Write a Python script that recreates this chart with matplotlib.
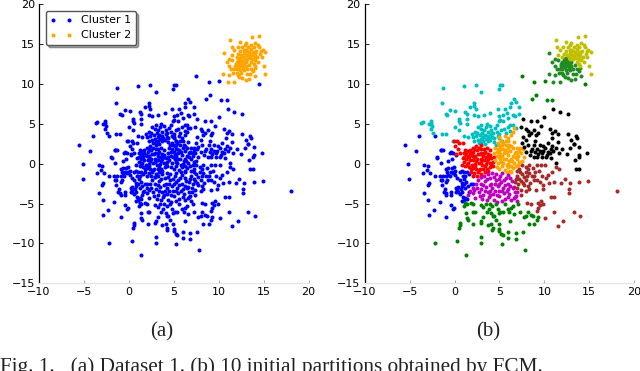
import numpy as np
import matplotlib.pyplot as plt

plt.rcParams['font.family'] = ['DejaVu Sans']

# points, one list per partition
blue_pts = [(-5.55,2.34),(-4.32,1.63),(-5.14,0),(-5.06,-1.92),(-3.36,-.13),(-3,-.25),(-3.54,-1.17),(-3.1,-.84),
    (-2.73,-1.17),(-2.84,-2.43),(-3,-2.64),(-3.36,-3.68),(-2.9,-4.5),(-2.3,-5.8),(-2.84,-6.44),(-.9,-6.7),
    (-1.6,-4.85),(-.43,-5.15),(-.2,-5.65),(-.05,-5.56),(-2,.9),(-1.9,.7),(-1.5,1.7),(-1.3,1.7),(-1.5,.1),
    (-2.2,-1.6),(-1.6,-1.6),(-1.5,-2),(-1.3,-1.6),(-1.4,-2.1),(-.9,-1.5),(-.8,-1.1),(-.7,-1.4),(-.5,-1.6),
    (-.4,-1.1),(-.2,-1.2),(-.1,-1),(.1,-1.4),(.1,-.9),(-.9,-.6),(-.7,-.5),(-.3,-.5),(-.1,-.4),(-.3,.6),
    (-.5,1.4),(-.4,1.5),(-.2,1.3),(.2,1.1),(-1.2,-3.5),(-1,-3.7),(-.9,-3.9),(-.4,-3.5),(-.4,-3.9),(-1.4,-2.7),
    (-.9,-2.3),(-.8,-2.1),(.2,-3.1),(.3,-3.3),(.2,-3.6),(.4,-3.5),(.6,-3.8),(.7,-3.2),(.8,-3.6),(.8,-2.8),
    (.9,-4.2),(1,-4.6),(1.2,-4.3),(1.4,-4.4),(.8,-4.7),(.6,-2.1),(.8,-2.4),(1,-2.6),(1.3,-2.3),(1.5,-2.8),
    (1.2,-3.1),(1.6,-3.5),(1,-1.1),(.9,-1.6),(.8,-.9),(1.2,-1.5),(1.4,-1),(1.1,-1.9),(1.8,-2.5),(2,-2.6),
    (1.6,-1.3),(-4,3.47),(-2.2,3.5),(-1.5,1.7),(-.7,.4),(.6,-1.1),(.3,-1.8),(-1.1,-3.2),(.4,-2.9)]
cyan_pts = [(-1.3,9.54),(1,9.75),(2.4,9.87),(3,8.95),(4.95,9.33),(5.06,9.87),(5.3,9.9),(-1.4,7.57),(-.46,6.8),
    (.1,6.65),(-.95,6.2),(-.8,6.1),(-3.55,5.27),(-3.7,5.06),(-2.6,5.36),(-2.6,5.06),(-2.85,5),(-2.55,4.75),
    (-2.6,4.3),(-2.4,3.9),(-1.4,3.7),(-1,3.7),(0,4.6),(.46,5.6),(.5,5.3),(.6,5.06),(1.2,6.5),(1.35,6.2),
    (1.76,7.1),(2.2,7.6),(2.2,7.3),(2.4,6.9),(2.2,6.1),(2.6,6),(3.25,6.1),(4,6.4),(4.85,6.9),(5.6,6.9),
    (6.2,7.1),(6.25,7.6),(6.6,8.1),(6.85,7.7),(7.2,7.1),(5.8,6.4),(5.4,6.1),(5,6),(5.05,5.5),(5.45,5.4),
    (6,5.7),(7.2,6.3),(6.7,6),(6.55,6.1),(1.4,5.6),(1.4,5),(.46,4.2),(1.05,3.5),(1.5,3.4),(-.2,2.85),
    (2.6,4.6),(2.9,4.3),(3,4.8),(3.3,4.2),(3.5,4.6),(3.7,4),(3.9,4.7),(4.1,4.2),(4.3,3.8),(4.5,4.5),
    (4.7,4),(4.7,4.9),(5,3.7),(5.2,4.2),(5.5,4.4),(5.7,3.9),(5.9,4.6),(6.2,4.1),(6.5,4.9),(6.8,4.5),
    (2,3.3),(2.2,2.9),(2.4,3.5),(2.6,3),(2.8,3.6),(3,2.7),(3.2,3.3),(3.5,3.1),(3.7,3.5),(4,3),(4.2,3.4),
    (4.4,2.7),(4.6,2.3),(3.4,2.5),(2.7,2.6),(1.9,3.7),(2.3,4),(5,3.2),(5.3,2.9),(3.6,5),(4.9,5.4),(6.2,4.9),
    (3.1,3.9),(3.4,3.6),(3.8,3.2),(4.1,3.7),(2.5,3.8),(2.9,3.1),(4.4,3.2),(3.2,2.9),(3.7,2.8),(4.8,3.5)]
red_pts = [(-.1,2.8),(.1,2.2),(.3,2.9),(.5,2.6),(.4,1.8),(.6,1.3),(.2,1.2),(.9,2.6),(1.1,1.3),(1.3,1.2),(1.5,1),
    (1.7,1.7),(1.9,1.1),(2.1,1.5),(2.3,1),(2.5,1.7),(2.8,1.2),(3,1.8),(3.2,1),(3.4,1.5),(3.7,1.2),(3.9,1.7),
    (.9,.7),(1.1,.2),(1.3,.6),(1.5,.1),(1.7,.5),(1.9,-.1),(2.1,.5),(2.3,0),(2.5,.6),(2.7,.1),(2.9,.6),(3.1,-.1),
    (3.3,.5),(3.5,0),(3.7,.6),(3.9,.1),(4.1,.7),(4.3,.2),(4.4,.9),(.8,-.1),(1.2,-.3),(1.6,-.4),(2,-.5),(2.4,-.6),
    (2.8,-.6),(3.2,-.7),(3.6,-.6),(4,-.4),(4.3,-.3),(1.8,-1),(2.2,-1.2),(2.6,-1.1),(3,-1.3),(3.4,-1.1),(3.7,-.9),
    (2,-1.5),(2.5,-1.6),(2.9,-1.7),(1.4,1.6),(2.4,2.2),(3,2.3),(2.9,1.4),(3.6,2),(2.2,.8),(3.5,.8),(1.2,1.7),
    (1.6,.8),(2,1),(2.6,1.2),(3.1,.5),(3.3,1.3),(3.8,.9),(1.4,-.1),(1.8,-.6),(2.3,-.3),(2.7,-.8),(3.4,-.3),(4.1,0),
    (2,2),(2.7,2),(3.3,1.8),(1.1,.9),(2.4,.3),(2.9,.2),(3.6,.3),(1.7,1.3),(2.2,1.8),(3.9,1.1)]
orange_pts = [(6.6,4.5),(6.5,4),(6.3,3.6),(5.9,3.2),(5.6,3.5),(5.2,2.9),(5,3.3),(4.8,2.6),(4.5,2),(4.8,1.9),
    (5.1,2.2),(5.4,2.6),(5.7,2.3),(6,2.8),(6.3,2.2),(6.6,2.7),(6.9,2),(7.3,2),(7.6,1.8),(4.4,1.4),(4.7,1),
    (5,1.5),(5.3,1),(5.6,1.7),(5.9,1.1),(6.2,1.6),(6.5,1),(6.8,1.5),(7.1,1),(7.4,1.3),(7.7,.9),(4.5,.5),
    (4.8,.1),(5.1,.6),(5.4,.1),(5.7,.6),(6,0),(6.3,.6),(6.6,.1),(6.9,.6),(7.2,.2),(7.5,.4),(4.7,-.4),(5,-.6),
    (5.3,-.3),(5.6,-.8),(5.9,-.4),(6.2,-.9),(6.5,-.5),(6.8,-.3),(7.1,-.2),(5.8,-1),(6.3,-1.1),(5.5,1.3),
    (5.2,1.8),(6,2),(6.4,.4),(5.7,2.9),(4.9,.9),(7,1.3),(5.3,2.4),(5.8,1.5),(6.1,2.4),(6.5,2),(6.7,1.3),(5.1,1.2),
    (5.5,.6),(6.1,.4),(6.7,.8),(5.2,.2),(5.8,-.1),(6.3,-.3),(4.9,2.3),(5.4,1.9),(7.2,1.6),(4.7,1.5)]
black_pts = [(7.6,5.6),(8.5,5.4),(7.4,4.6),(9.2,5.3),(10,5.8),(11,6.9),(11.7,6.5),(12.6,6.3),(9.6,4.7),(8.2,4.1),
    (8.5,3.9),(8.8,4.2),(9.1,3.6),(9.3,3.9),(7.6,3.4),(8,3),(8.3,3.6),(10.6,4.4),(10.9,3.8),(11.2,4.1),(11.5,3.7),
    (10.8,3.2),(12.6,3.7),(13.5,3.5),(13.6,3.2),(13,3),(13.3,2.5),(12.9,2),(11.5,2.7),(10.9,2.2),(10.4,2.6),
    (7.5,2.6),(7.7,2.1),(8.2,2.4),(8.6,1.9),(8.9,2.4),(9.2,1.8),(9.5,2.3),(9.8,1.6),(10.1,2),(10.4,1.5),(10.7,1.9),
    (11,1.6),(11.3,2),(11.6,1.3),(12,1.8),(12.5,1.2),(13.3,2.5),(13.9,2.1),(14.8,1.4),(13.8,.8),(13.4,.5),(13.9,1.1),
    (8,1.5),(8.4,1.1),(8.8,.9),(9.3,1.2),(9.7,.9),(10.2,.8),(10.7,.7),(11.3,.1),(13.5,-.7),(13.8,-.7),(9,2.8),(8,4.4),
    (9,1.5),(9.5,1.6),(9.9,2.2),(10.3,1.1),(8.5,1.6),(9.2,.9),(10.6,1.3),(9.7,1.3)]
brown_pts = [(18.1,-3.4),(14.9,-2.2),(13.9,-2.3),(12.3,-1.9),(12.8,-2.4),(12.7,-3.2),(12.7,-3.7),(11.3,-.4),(11.6,-.7),
    (10.9,-1),(10.4,-1.4),(10.2,-1.8),(10.5,-2.4),(11.1,-2.3),(11.9,-2.4),(9.9,-2.7),(9.5,-2.3),(9.8,-3.2),(9.1,-3.3),
    (8.3,-3.2),(8,-3.4),(7.4,-3.3),(7.4,-3.9),(6.7,-4.2),(8.1,-4.9),(8.5,-5),(9.3,-4.9),(9.6,-4.7),(9.9,-5),(9.5,-5.2),
    (9.3,-5.6),(9.2,-5.9),(10.7,-4.2),(11.1,-4.2),(10.1,-6.8),(11.1,-6.1),(11.5,-7.8),(12.1,-7.2),(13.3,-6.1),(14,-6.6),
    (6.9,-.9),(7.2,-.6),(7.5,-.2),(7.9,-.4),(8.3,-.1),(8.7,-.5),(9.2,-.1),(9.6,-.2),(10.1,-.1),(6.9,-1.5),(7.2,-1.9),
    (7.5,-1.3),(7.9,-1),(8.3,-1.2),(8.6,-1.6),(9,-1.1),(9.4,-.9),(9.7,-1.5),(6.7,-2.3),(7.1,-2.6),(7.4,-2.2),(7.7,-2.7),
    (8,-2.1),(8.4,-2.4),(8.8,-2),(7,-3),(6.6,-2.9),(7.7,-1.7),(8.1,-1.5),(9.2,-2),(8.9,-1.5),(8.2,-.7),(7.3,-1.1),
    (7.6,-2.4),(8.2,-2.8),(6.8,-1.9)]
magenta_pts = [(1.5,-3.9),(1.7,-3.4),(2,-3.1),(2,-3.7),(2.3,-4.3),(2.5,-3),(2.7,-3.6),(2.9,-2.5),(3,-3.2),(3.2,-3.9),
    (3.4,-2.2),(3.5,-2.9),(3.7,-3.5),(3.8,-4.2),(4,-1.8),(4.1,-2.5),(4.2,-3.1),(4.3,-3.8),(4.4,-4.5),(4.6,-1.3),
    (4.6,-2.1),(4.8,-2.8),(4.9,-3.4),(5,-4),(5.1,-1.5),(5.2,-2.3),(5.4,-3),(5.5,-3.7),(5.6,-4.4),(5.7,-1.8),
    (5.9,-2.5),(6,-3.2),(6.1,-3.8),(6.3,-4.6),(6.4,-2.2),(6.5,-3),(6.7,-3.5),(6.8,-4),(6.9,-4.7),(7,-3.5),
    (2.6,-2),(2.9,-1.7),(3.3,-1.5),(3.7,-1.3),(4.2,-1.2),(3.1,-4.4),(3.6,-4.5),(4.7,-4.8),(5.3,-4.7),(4.5,-3.4),
    (5.8,-3.4),(3.9,-2.7),(5.3,-1.2),(6.2,-1.8),(6.6,-4.3),(2.4,-2.5),(4,-3.4),(5,-2.6),(3.2,-2.7),(3.6,-1.9),
    (4.4,-1.7),(4.9,-1.9),(5.5,-2),(5.6,-2.7),(4.5,-2.6),(3.4,-3.4),(3.9,-3.9),(4.7,-3.9),(5.3,-3.4),(6.2,-2.8),
    (6,-4.2),(2.8,-4),(2.2,-3.3),(5.9,-1.4)]
green_pts = [(-2.2,-10),(.3,-9.7),(1.3,-11.5),(7.8,-10.8),(5.3,-10.1),(3,-9.2),(3,-9.9),(4.3,-8),(4.2,-8.3),(5,-8.2),
    (5,-8.4),(5.2,-8.8),(5.4,-9),(6,-8.6),(6,-9.3),(6.8,-8.7),(6.8,-9.5),(7.6,-8.6),(8.3,-7.6),(8.9,-7.5),(9.3,-6.7),
    (9.2,-7),(1.3,-6.2),(1.4,-6.8),(1.5,-7.1),(.6,-7.4),(.6,-7.7),(.5,-8),(2.1,-7.6),(2.9,-7.4),(3,-7.2),(3.2,-6.7),
    (3.7,-7.7),(4.1,-7.6),(4.6,-7),(4.9,-7.5),(6.2,-7.2),(6.6,-6.3),(7.7,-6.7),(8,-6.6),(8.2,-6),(8.5,-6.4),(8.7,-6.5),
    (1.1,-5.3),(1.2,-4.9),(1.4,-5.1),(1.8,-4.9),(2,-5.1),(2.1,-6),(2.3,-6),(2.9,-5.2),(3.2,-5.4),(3.5,-5),(3.9,-5),
    (3.8,-5.7),(4.2,-5.3),(4.1,-6.2),(4.4,-6.5),(4.3,-6.6),(4.8,-5.7),(4.9,-6.2),(5.1,-6),(5.6,-5),(5.9,-5.7),(6.3,-5.5),
    (6.5,-5.3),(6.1,-6),(7.1,-5.1),(7.3,-6),(3.6,-6.1),(4.6,-5),(5.4,-6)]
# dark green points that panel (a) has in cluster 1
far_green_pts = [(7.5,11),(8.9,10.3),(10.07,10.4),(14.5,10),(8.6,8.15),(9.05,8.6),(10.26,8),(10.9,8)]
core_green_pts = [(10.55,13.85),(10.5,11.3),(11,10.2),(11.7,10.3),(10.9,12.7),(11.2,13.1),(11.5,13),(11.2,12.3),(11.6,11.4),
    (11.2,11.1),(12.6,10.7),(13,10.5),(13.4,10.6),(14.1,11),(13.8,11.6),(13.2,11.2),(11.8,12.2),(12,12.8),(12.2,13.1),
    (12.4,13.3),(12.6,12.9),(12,11.9),(12.2,12.4),(12.4,11.8),(12.6,12.2),(12.8,11.7),(13,12.2),(13.2,11.9),(13.4,12.4),
    (12.5,11.4),(12,11.4),(12.8,12.6),(11.7,11.9),(13.6,11.9),(13,12.7),(12.3,12.1),(12.7,11.9),(11.9,12.5),(12.3,12.7),
    (14,12),(13.5,11.3),(12.3,10.9),(11.4,11.9),(12.1,11.1),(12.5,12.5),(12.1,12.2),(12.9,12.2),(12.4,12.9)]
yellow_pts = [(11.3,15.5),(12.4,15.3),(13.7,15.9),(14.5,16),(14.1,15.2),(11.45,14.6),(11.5,13.6),(11.75,14.3),(15.15,14.05),
    (14.7,14.2),(14.8,13.4),(15,12.2),(15.2,11.25),(14,12.2),(12.1,14.6),(12.4,14.2),(12.6,14.6),(12.9,14.9),(13,14.3),
    (13.3,14.7),(13.6,14.4),(13.9,14.6),(14.2,14.2),(14.5,14.7),(12.2,13.8),(12.5,13.7),(12.8,13.9),(13.1,13.6),(13.4,14),
    (13.7,13.7),(14,13.9),(14.3,13.4),(14.6,13.8),(12.9,13.2),(13.2,13.1),(13.5,13.3),(13.8,13.1),(14.1,13),(14.4,12.7),
    (13.6,12.7),(13.9,12.5),(12,13.4),(13,15.2),(14.4,14.9),(12.7,13.4),(13.3,13.5),(13.6,14.9),(14.9,14.3),(13,13.6),
    (13.5,13.8),(13.2,14.2),(12.8,14.3),(13.8,14),(14,13.5)]

partitions = [blue_pts, cyan_pts, red_pts, orange_pts, black_pts, brown_pts, magenta_pts, green_pts, far_green_pts,
              core_green_pts, yellow_pts]
partition_colors = ['b', 'c', 'r', 'orange', 'k', 'brown', 'm', 'g', 'g', 'forestgreen', 'y']
cluster1 = np.array(blue_pts + cyan_pts + red_pts + orange_pts + black_pts + brown_pts + magenta_pts + green_pts + far_green_pts)
cluster2 = np.array(core_green_pts + yellow_pts)

xticks = [-10, -5, 0, 5, 10, 15, 20]
yticks = [-15, -10, -5, 0, 5, 10, 15, 20]

fig = plt.figure(figsize=(6.4, 3.71), dpi=100)
ax1 = fig.add_axes([39/640, 1-283.3/371, 269.5/640, 279/371])
ax2 = fig.add_axes([364.7/640, 1-283.3/371, 269.5/640, 279/371])

for ax in (ax1, ax2):
    ax.set_xlim(-10, 20)
    ax.set_ylim(-15, 20)
    ax.set_xticks(xticks)
    ax.set_yticks(yticks)
    ax.tick_params(direction='in', labelsize=8, length=3, width=0.6, top=False, right=False, pad=3)
    ax.spines['top'].set_visible(False)
    ax.spines['right'].set_visible(False)
    ax.spines['bottom'].set_color('#e4e4e4')
    ax.spines['left'].set_linewidth(0.9)
    ax.tick_params(axis='x', color='#999999', length=2)

ax1.plot(cluster1[:, 0], cluster1[:, 1], '.', color='b', ms=5.8, mew=0, label='Cluster 1')
ax1.plot(cluster2[:, 0], cluster2[:, 1], '.', color='orange', ms=5.8, mew=0, label='Cluster 2')
ax1.legend(loc='upper left', numpoints=2, fontsize=8, fancybox=True, shadow=True, framealpha=1,
           borderaxespad=0.6, labelspacing=0.45, handlelength=2, edgecolor='#555555')

for pts, c in zip(partitions, partition_colors):
    pts = np.array(pts)
    ax2.plot(pts[:, 0], pts[:, 1], '.', color=c, ms=5.8, mew=0)

serif = ['Liberation Serif', 'DejaVu Serif']
fig.text(162/640, 1-336/371, '(a)', family=serif, fontsize=15, ha='center', va='baseline', color='#222222')
fig.text(488/640, 1-336/371, '(b)', family=serif, fontsize=15, ha='center', va='baseline', color='#222222')
fig.text(0, 1-371.5/371, 'Fig. 1.   (a) Dataset 1. (b) 10 initial partitions obtained by FCM.', family=serif, fontsize=15.3,
         ha='left', va='baseline', color='#222222')

fig.savefig('out.png', dpi=100)
